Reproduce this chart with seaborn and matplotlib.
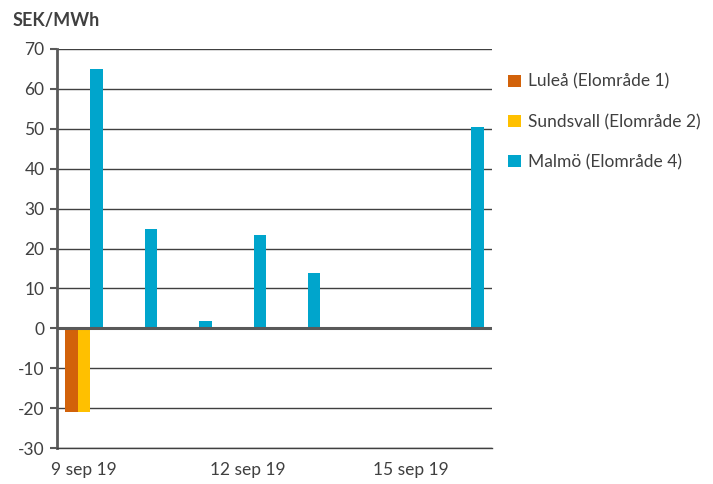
import matplotlib
matplotlib.use("Agg")
import matplotlib.pyplot as plt
import seaborn as sns
import pandas as pd

# Daily price differences per bidding-area city
days = ["9 sep 19", "10 sep 19", "11 sep 19", "12 sep 19",
        "13 sep 19", "14 sep 19", "15 sep 19", "16 sep 19"]
lulea = [-21, 0, 0, 0, 0, 0, 0, 0]
sundsvall = [-21, 0, 0, 0, 0, 0, 0, 0]
malmo = [65, 25, 1.8, 23.3, 13.8, 0, 0, 50.5]
series_names = ["Luleå (Elområde 1)", "Sundsvall (Elområde 2)", "Malmö (Elområde 4)"]
series_colors = ["#D2620A", "#FFC000", "#00A5CC"]
tick_days = ["9 sep 19", "12 sep 19", "15 sep 19"]

rows = []
for name, vals in zip(series_names, [lulea, sundsvall, malmo]):
    for d, v in zip(days, vals):
        rows.append({"day": d, "series": name, "value": v})
df = pd.DataFrame(rows)

sns.set_theme(style="white")
plt.rcParams["font.family"] = ["Lato", "DejaVu Sans"]
plt.rcParams["axes.unicode_minus"] = False

fig = plt.figure(figsize=(7.13, 4.84), dpi=100)
ax = fig.add_axes([0.080, 0.074, 0.610, 0.825])

sns.barplot(data=df, x="day", y="value", hue="series", order=days,
            hue_order=series_names, palette=series_colors, width=0.69,
            linewidth=0, saturation=1, ax=ax, zorder=3)

ax.set_ylim(-30, 70)
ax.set_xlim(-0.5, 7.5)
ax.set_yticks(range(-30, 71, 10))
ax.yaxis.grid(True, color="#404040", linewidth=1.0, zorder=0)
ax.set_axisbelow(True)
ax.axhline(0, color="#595959", linewidth=2.2, zorder=4)

ax.set_xticks([days.index(t) for t in tick_days])
ax.set_xticklabels(tick_days)
ax.tick_params(axis="x", length=0, pad=10, labelsize=12.5, colors="#404040")
ax.tick_params(axis="y", length=5, width=1.5, color="#595959",
               left=True, labelsize=12.5, colors="#404040", pad=4)
ax.set_xlabel("")
ax.set_ylabel("")

for s in ["top", "right"]:
    ax.spines[s].set_visible(False)
ax.spines["left"].set_color("#595959")
ax.spines["left"].set_linewidth(2)
ax.spines["bottom"].set_color("#404040")
ax.spines["bottom"].set_linewidth(1.0)

ax.legend(loc="upper left", bbox_to_anchor=(1.02, 0.955), frameon=False,
          fontsize=12.5, labelspacing=1.38, handlelength=0.75, handleheight=0.75,
          handletextpad=0.4, labelcolor="#404040", borderaxespad=0)

fig.text(0.017, 0.958, "SEK/MWh", fontsize=13, fontweight="bold",
         color="#404040", ha="left", va="center")

fig.savefig("out.png", dpi=100)
